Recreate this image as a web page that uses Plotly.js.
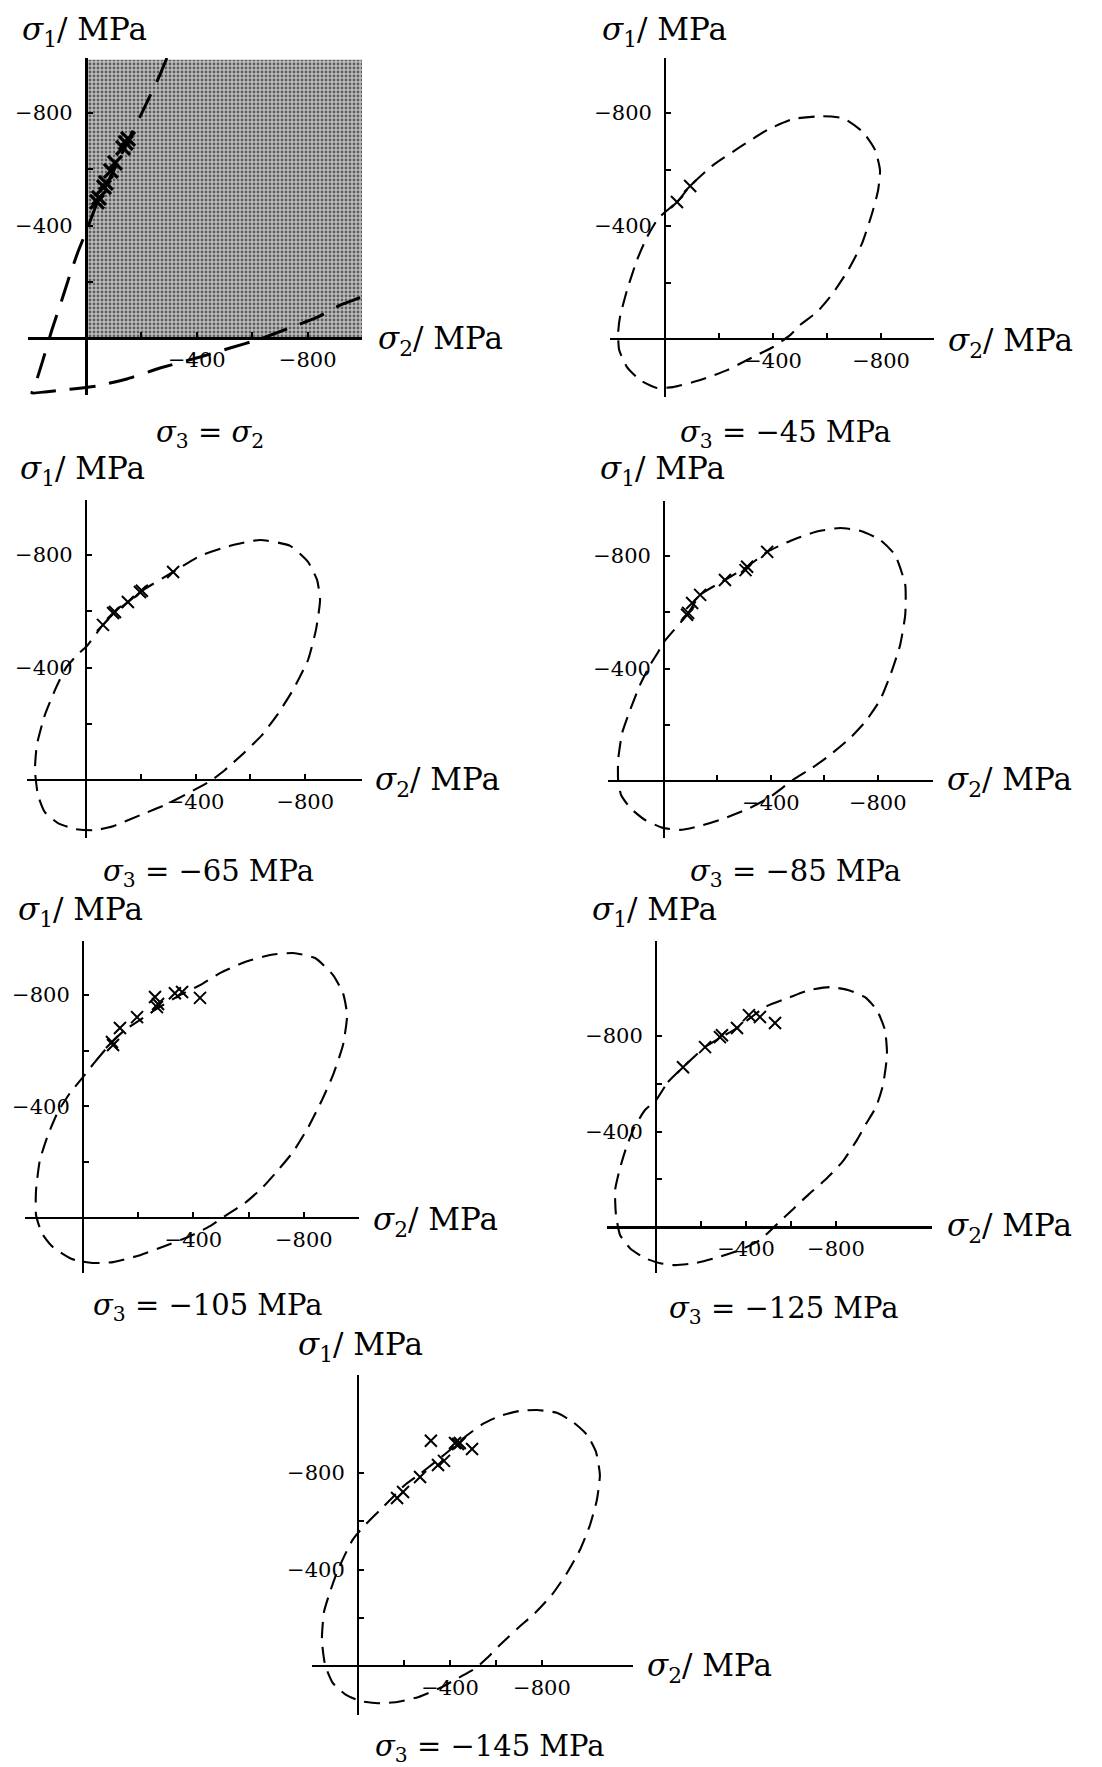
<!DOCTYPE html>
<html><head><meta charset="utf-8">
<script src="https://cdn.plot.ly/plotly-3.0.1.min.js"></script>
<style>html,body{margin:0;padding:0;background:#fff;}#chart{width:1102px;height:1767px;}</style>
</head><body><div id="chart"></div>
<script>
// ---------- DATA (MPa) ----------
const captions = [
  '<i>σ</i><sub>3</sub> = <i>σ</i><sub>2</sub>',
  '<i>σ</i><sub>3</sub> = −45 MPa',
  '<i>σ</i><sub>3</sub> = −65 MPa',
  '<i>σ</i><sub>3</sub> = −85 MPa',
  '<i>σ</i><sub>3</sub> = −105 MPa',
  '<i>σ</i><sub>3</sub> = −125 MPa',
  '<i>σ</i><sub>3</sub> = −145 MPa'
];
const yTitle = '<i>σ</i><sub>1</sub>/ MPa';
const xTitle = '<i>σ</i><sub>2</sub>/ MPa';
const majorTickVals = [-400, -800];
const majorTickText = ['−400', '−800'];
const minorTickVals = [-200, -600];

// shaded region (σ3 = σ2 panel)
const shadeEq_s2 = [0, -996, -996, 0, 0];
const shadeEq_s1 = [0, 0, -990, -990, 0];

// σ3 = σ2
const curveEq_s2 = [-292,-267,-238,-202,-166,-105,-40,0,29,58,87,123,155,181,195,148,83,14,-40,-148,-267,-412,-520,-628,-736,-838,-917,-996];
const curveEq_s1 = [-996,-936,-875,-801,-730,-605,-480,-377,-306,-224,-135,-28,78,160,196,192,185,178,171,146,107,68,36,4,-36,-75,-117,-146];
const ptsEq_s2 = [-40,-47,-65,-72,-90,-105,-134,-144,-152];
const ptsEq_s1 = [-484,-498,-537,-552,-594,-623,-676,-694,-708];

// σ3 = -45
const c45_s2 = [0,-44,-93,-178,-278,-378,-474,-585,-659,-733,-778,-796,-789,-767,-730,-678,-622,-563,-500,-463,-400,-304,-230,-130,-30,30,93,141,170,174,167,141,104,67,30,0];
const c45_s1 = [-450,-485,-542,-616,-680,-740,-779,-789,-782,-733,-669,-598,-527,-446,-340,-244,-163,-96,-50,-14,28,74,110,145,170,173,145,99,39,-21,-78,-173,-280,-361,-421,-450];
const p45_s2 = [-44,-93];
const p45_s1 = [-485,-542];

// σ3 = -65
const c65_s2 = [0,-62,-106,-153,-204,-318,-416,-526,-635,-745,-810,-843,-854,-839,-810,-755,-697,-642,-580,-507,-453,-380,-288,-197,-99,-33,40,102,150,175,186,179,150,113,73,29,0];
const c65_s1 = [-473,-552,-598,-633,-673,-740,-797,-833,-854,-833,-776,-712,-641,-534,-427,-320,-231,-160,-100,-36,4,43,89,125,164,178,174,153,114,53,-36,-125,-231,-320,-399,-448,-473];
const p65_s2 = [-62,-99,-106,-153,-197,-204,-318];
const p65_s1 = [-552,-594,-598,-633,-669,-673,-740];

// σ3 = -85
const c85_s2 = [0,-86,-135,-228,-311,-386,-472,-566,-659,-734,-809,-865,-903,-903,-884,-850,-809,-753,-697,-622,-554,-483,-397,-322,-228,-135,-60,4,71,127,161,172,172,157,127,90,52,22,0];
const c85_s1 = [-495,-591,-662,-715,-762,-815,-854,-886,-900,-890,-858,-804,-698,-591,-484,-384,-288,-210,-153,-93,-46,-4,57,96,132,160,174,167,139,96,50,-4,-75,-171,-253,-342,-413,-459,-495];
const p85_s2 = [-86,-90,-105,-135,-228,-305,-311,-386];
const p85_s1 = [-591,-598,-633,-662,-715,-750,-762,-815];

// σ3 = -105
const c105_s2 = [0,-43,-105,-152,-207,-272,-351,-424,-496,-587,-678,-761,-841,-906,-942,-957,-942,-906,-866,-815,-761,-707,-652,-587,-525,-460,-388,-297,-207,-109,-33,40,109,149,170,170,156,127,91,47,0];
const c105_s1 = [-505,-559,-631,-674,-710,-753,-799,-835,-878,-918,-943,-950,-932,-871,-806,-728,-620,-513,-423,-323,-237,-172,-111,-54,-14,29,65,100,133,158,161,147,104,54,-11,-100,-208,-297,-380,-448,-505];
const p105_s2 = [-105,-109,-134,-196,-268,-272,-261,-333,-359,-424];
const p105_s1 = [-631,-620,-681,-720,-756,-767,-792,-806,-810,-789];

// σ3 = -125
const c125_s2 = [0,-53,-120,-218,-284,-360,-418,-484,-596,-684,-773,-853,-929,-982,-1018,-1027,-1009,-978,-933,-893,-831,-756,-680,-609,-524,-462,-373,-276,-173,-84,-18,49,116,160,178,182,160,133,98,49,0];
const c125_s1 = [-531,-607,-669,-753,-791,-833,-874,-921,-962,-992,-1004,-992,-962,-908,-824,-720,-594,-502,-431,-364,-276,-201,-138,-75,0,54,96,126,151,159,151,130,88,33,-50,-155,-247,-331,-414,-490,-531];
const p125_s2 = [-120,-218,-284,-293,-360,-413,-462,-529];
const p125_s1 = [-669,-753,-795,-803,-833,-887,-879,-854];

// σ3 = -145
const c145_s2 = [0,-39,-96,-148,-204,-270,-335,-400,-465,-543,-617,-704,-778,-865,-935,-996,-1035,-1052,-1039,-1009,-965,-909,-843,-770,-696,-617,-561,-513,-443,-357,-261,-170,-87,-9,57,109,143,157,148,122,91,57,26,0];
const c145_s1 = [-552,-593,-647,-697,-751,-797,-846,-896,-950,-1004,-1037,-1058,-1062,-1050,-1012,-959,-888,-793,-689,-585,-481,-386,-295,-220,-158,-87,-33,8,46,91,129,149,154,145,116,71,-4,-108,-224,-307,-390,-461,-519,-552];
const p145_s2 = [-170,-196,-270,-348,-374,-317,-422,-443,-435,-496];
const p145_s1 = [-697,-722,-784,-834,-851,-934,-925,-925,-921,-900];

const curves = [
  [curveEq_s2, curveEq_s1, ptsEq_s2, ptsEq_s1],
  [c45_s2, c45_s1, p45_s2, p45_s1],
  [c65_s2, c65_s1, p65_s2, p65_s1],
  [c85_s2, c85_s1, p85_s2, p85_s1],
  [c105_s2, c105_s1, p105_s2, p105_s1],
  [c125_s2, c125_s1, p125_s2, p125_s1],
  [c145_s2, c145_s1, p145_s2, p145_s1]
];

// ---------- LAYOUT (pixel geometry) ----------
const W = 1102, H = 1767;
const geom = [
 {x0:28,x1:362,y0:58,y1:395,xr:[209,-996],yr:[203,-996],cap:[210,434],t1:[20,31],t2:[376,340],heavy:true},
 {x0:610,x1:934,y0:58,y1:397,xr:[204,-996],yr:[205,-995],cap:[786,434],t1:[600,31],t2:[946,342]},
 {x0:27,x1:362,y0:500,y1:838,xr:[215,-1007],yr:[206,-996],cap:[208,873],t1:[18,470],t2:[373,782]},
 {x0:608,x1:933,y0:501,y1:838,xr:[210,-1007],yr:[203,-996],cap:[795,873],t1:[598,471],t2:[945,782]},
 {x0:25,x1:359,y0:941,y1:1273,xr:[210,-1000],yr:[197,-993],cap:[208,1307],t1:[16,911],t2:[371,1221]},
 {x0:607,x1:932,y0:941,y1:1273,xr:[218,-1227],yr:[192,-1197],cap:[784,1310],t1:[590,911],t2:[945,1227]},
 {x0:312,x1:633,y0:1375,y1:1715,xr:[200,-1196],yr:[203,-1207],cap:[490,1748],t1:[296,1346],t2:[645,1667]}
];

const FONT = 'DejaVu Serif, Liberation Serif, serif';
const traces = [];
const layout = {
  width: W, height: H, margin: {l:0,r:0,t:0,b:0},
  paper_bgcolor: '#fff', plot_bgcolor: 'rgba(0,0,0,0)',
  showlegend: false, annotations: []
};

geom.forEach((g, i) => {
  const xk = 'xaxis' + (i ? i + 1 : ''), yk = 'yaxis' + (i ? i + 1 : '');
  const xa = 'x' + (i ? i + 1 : ''), ya = 'y' + (i ? i + 1 : '');
  const oyPx = g.y1 - g.yr[0] / (g.yr[0] - g.yr[1]) * (g.y1 - g.y0);
  const oxPx = g.x0 + g.xr[0] / (g.xr[0] - g.xr[1]) * (g.x1 - g.x0);
  const lw = g.heavy ? 3 : 2.4;
  const common = {
    showgrid: false, zeroline: false, showline: true, linecolor: '#000', linewidth: lw,
    ticks: 'inside', ticklen: 5, tickwidth: 2, tickcolor: '#000',
    tickmode: 'array', tickvals: majorTickVals, ticktext: majorTickText,
    minor: {tickmode: 'array', tickvals: minorTickVals, ticks: 'inside', ticklen: 5, tickwidth: 2, tickcolor: '#000', showgrid: false},
    tickfont: {family: FONT, size: 21, color: '#000'},
    anchor: 'free', fixedrange: true
  };
  layout[xk] = Object.assign({}, common, {
    domain: [g.x0 / W, g.x1 / W], range: g.xr, position: 1 - oyPx / H, side: 'bottom',
    ticklabelstandoff: 2
  });
  layout[yk] = Object.assign({}, common, {
    domain: [1 - g.y1 / H, 1 - g.y0 / H], range: g.yr, position: oxPx / W, side: 'left',
    ticklabelstandoff: 8
  });

  if (i === 0) {
    traces.push({
      x: shadeEq_s2, y: shadeEq_s1, xaxis: xa, yaxis: ya, mode: 'lines',
      fill: 'toself', fillcolor: '#b0b0b0', line: {width: 0},
      fillpattern: {shape: '.', bgcolor: '#bdbdbd', fgcolor: '#5e5e5e', size: 4, solidity: 0.4},
      hoverinfo: 'skip'
    });
  }
  const c = curves[i];
  traces.push({
    x: c[0], y: c[1], xaxis: xa, yaxis: ya, mode: 'lines',
    line: {color: '#000', width: g.heavy ? 3 : 2.1,
           dash: g.heavy ? '26px,14px' : '16px,9px',
           shape: 'spline', smoothing: g.heavy ? 0.3 : 0.5},
    hoverinfo: 'skip'
  });
  traces.push({
    x: c[2], y: c[3], xaxis: xa, yaxis: ya, mode: 'markers',
    marker: {symbol: 'x-thin', size: g.heavy ? 14 : 12, color: '#000',
             line: {width: g.heavy ? 3.2 : 2, color: '#000'}},
    hoverinfo: 'skip'
  });

  const ann = (txt, px, py, xanchor, size) => layout.annotations.push({
    text: txt, x: px / W, y: 1 - py / H, xref: 'paper', yref: 'paper',
    xanchor: xanchor, yanchor: 'middle', showarrow: false,
    font: {family: FONT, size: size, color: '#000'}
  });
  ann(yTitle, g.t1[0], g.t1[1], 'left', 31);
  ann(xTitle, g.t2[0], g.t2[1], 'left', 31);
  ann(captions[i], g.cap[0], g.cap[1], 'center', 29);
});

Plotly.newPlot('chart', traces, layout, {displayModeBar: false, staticPlot: true});
</script>
</body></html>
